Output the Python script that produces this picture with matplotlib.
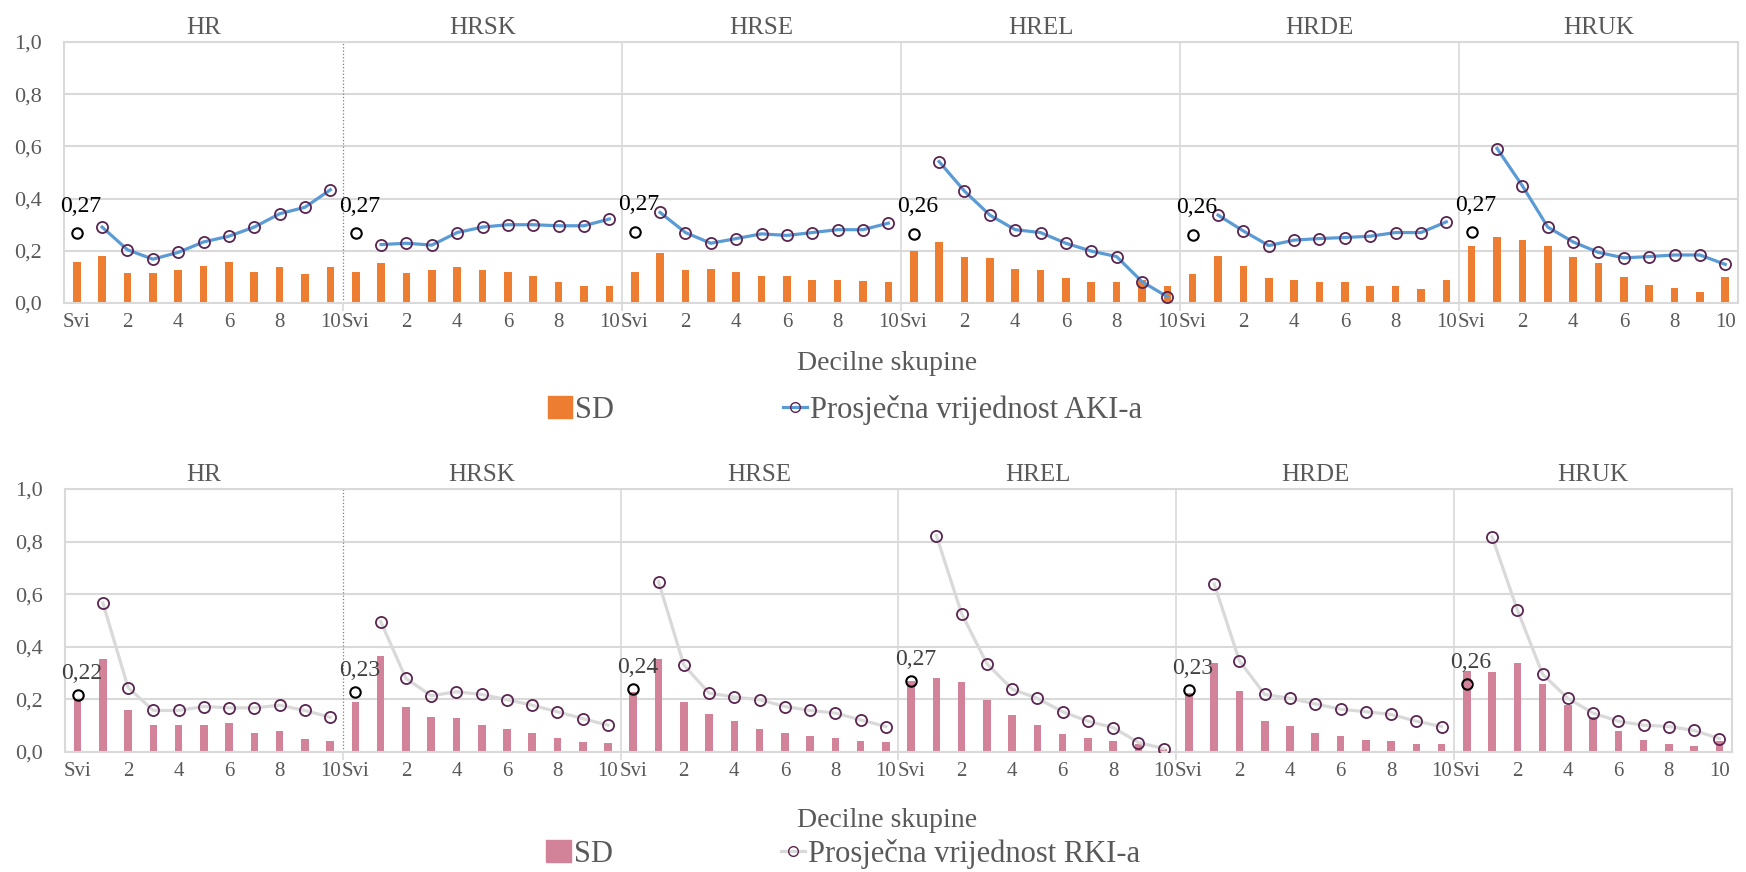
import matplotlib
matplotlib.use("Agg")
import matplotlib.pyplot as plt
from matplotlib.patches import Patch
from matplotlib.lines import Line2D

plt.rcParams['font.family'] = ['Liberation Serif', 'DejaVu Serif']

groups = ['HR', 'HRSK', 'HRSE', 'HREL', 'HRDE', 'HRUK']
cats = ['Svi', '1', '2', '3', '4', '5', '6', '7', '8', '9', '10']

# AKI: prosjecna vrijednost (Svi + decili 1..10)
aki_mean = [
    [0.267, 0.291, 0.204, 0.168, 0.194, 0.234, 0.256, 0.291, 0.342, 0.367, 0.434],
    [0.267, 0.224, 0.229, 0.222, 0.270, 0.291, 0.300, 0.300, 0.296, 0.296, 0.322],
    [0.272, 0.347, 0.270, 0.229, 0.247, 0.265, 0.259, 0.270, 0.281, 0.281, 0.306],
    [0.264, 0.542, 0.429, 0.337, 0.281, 0.270, 0.229, 0.199, 0.178, 0.082, 0.024],
    [0.262, 0.337, 0.276, 0.220, 0.241, 0.247, 0.251, 0.256, 0.270, 0.270, 0.311],
    [0.271, 0.592, 0.449, 0.291, 0.234, 0.194, 0.173, 0.178, 0.184, 0.184, 0.148],
]
aki_sd = [
    [0.157, 0.182, 0.115, 0.115, 0.125, 0.142, 0.157, 0.120, 0.137, 0.110, 0.137],
    [0.120, 0.152, 0.115, 0.125, 0.137, 0.125, 0.120, 0.105, 0.080, 0.065, 0.065],
    [0.120, 0.191, 0.125, 0.130, 0.120, 0.105, 0.105, 0.090, 0.090, 0.085, 0.080],
    [0.201, 0.232, 0.177, 0.172, 0.130, 0.125, 0.095, 0.080, 0.080, 0.090, 0.065],
    [0.110, 0.182, 0.142, 0.095, 0.090, 0.080, 0.080, 0.065, 0.065, 0.054, 0.090],
    [0.218, 0.253, 0.243, 0.218, 0.177, 0.152, 0.100, 0.070, 0.059, 0.044, 0.100],
]

# RKI
rki_mean = [
    [0.218, 0.567, 0.245, 0.158, 0.158, 0.173, 0.168, 0.168, 0.178, 0.158, 0.132],
    [0.228, 0.496, 0.280, 0.214, 0.229, 0.219, 0.199, 0.178, 0.153, 0.127, 0.102],
    [0.239, 0.648, 0.331, 0.224, 0.209, 0.199, 0.173, 0.158, 0.148, 0.122, 0.097],
    [0.271, 0.823, 0.526, 0.336, 0.239, 0.204, 0.153, 0.117, 0.093, 0.036, 0.013],
    [0.234, 0.639, 0.346, 0.219, 0.204, 0.183, 0.163, 0.153, 0.143, 0.117, 0.097],
    [0.260, 0.818, 0.541, 0.296, 0.204, 0.148, 0.117, 0.102, 0.097, 0.082, 0.051],
]
rki_sd = [
    [0.200, 0.354, 0.159, 0.104, 0.104, 0.104, 0.110, 0.074, 0.079, 0.048, 0.043],
    [0.190, 0.364, 0.171, 0.135, 0.130, 0.104, 0.089, 0.074, 0.054, 0.038, 0.033],
    [0.230, 0.354, 0.190, 0.144, 0.118, 0.088, 0.073, 0.062, 0.052, 0.042, 0.037],
    [0.270, 0.283, 0.268, 0.196, 0.139, 0.104, 0.068, 0.052, 0.042, 0.032, 0.012],
    [0.223, 0.339, 0.232, 0.118, 0.098, 0.073, 0.062, 0.047, 0.042, 0.032, 0.032],
    [0.308, 0.303, 0.339, 0.257, 0.178, 0.132, 0.078, 0.047, 0.032, 0.022, 0.040],
]

yticks = [0.0, 0.2, 0.4, 0.6, 0.8, 1.0]
grid_c = '#d9d9d9'
txt_c = '#595959'
mk_edge = '#5a2450'

fig = plt.figure(figsize=(17.46, 8.72), dpi=100)
ax1 = fig.add_axes([0.0367, 0.6525, 0.9587, 0.2993])
ax2 = fig.add_axes([0.0372, 0.1376, 0.9548, 0.3016])


def draw_panel(ax, means, sds, bar_c, line_c, lab_c, lab_dy):
    n = len(cats)
    for g, name in enumerate(groups):
        xs = [g * n + k for k in range(n)]
        ax.bar(xs, sds[g], width=0.3, color=bar_c, zorder=2)
        ax.plot(xs[1:], means[g][1:], color=line_c, lw=2.3, marker='o', ms=8,
                mfc='none', mec=mk_edge, mew=1.3, zorder=3)
        ax.plot(xs[0], means[g][0], marker='o', ms=7.5, mfc='none', mec='black',
                mew=1.5, ls='none', zorder=4)
        ax.annotate(('%.2f' % means[g][0]).replace('.', ','), (xs[0], means[g][0]),
                    xytext=(3, lab_dy), textcoords='offset points', ha='center',
                    va='bottom', fontsize=17, color=lab_c, zorder=5)
        ax.text(g * n + (n - 1) / 2, 1.01, name, transform=ax.get_xaxis_transform(),
                ha='center', va='bottom', fontsize=18, color=txt_c)
        if g > 0:
            if g == 1:
                ax.axvline(g * n - 0.5, color='#7f7f7f', ls=':', lw=0.9, zorder=1)
            else:
                ax.axvline(g * n - 0.5, color=grid_c, lw=1.2, zorder=1)
    ax.set_xlim(-0.5, len(groups) * n - 0.5)
    ax.set_ylim(0, 1)
    ax.set_yticks(yticks)
    ax.set_yticklabels([('%.1f' % v).replace('.', ',') for v in yticks])
    pos = [g * n + k for g in range(len(groups)) for k in range(0, n, 2)]
    ax.set_xticks(pos)
    ax.set_xticklabels([cats[k] for g in range(len(groups)) for k in range(0, n, 2)])
    ax.set_xticks([g * n - 0.5 for g in range(1, len(groups))], minor=True)
    ax.tick_params(axis='x', which='major', length=0, pad=7, labelsize=15, labelcolor=txt_c)
    ax.tick_params(axis='x', which='minor', length=6, color=grid_c, width=1.2)
    ax.tick_params(axis='y', length=0, pad=16, labelsize=16, labelcolor=txt_c)
    ax.grid(axis='y', color=grid_c, lw=1.5, zorder=0)
    ax.set_axisbelow(True)
    for s in ax.spines.values():
        s.set_color(grid_c)
        s.set_linewidth(1.5)


draw_panel(ax1, aki_mean, aki_sd, '#ed7d31', '#5b9bd5', 'black', 12)
draw_panel(ax2, rki_mean, rki_sd, '#d28399', '#d9d9d9', '#404040', 8)

fig.text(0.508, 0.5826, 'Decilne skupine', ha='center', va='center', fontsize=20, color=txt_c)
fig.text(0.508, 0.0585, 'Decilne skupine', ha='center', va='center', fontsize=20, color=txt_c)

h1 = [Patch(color='#ed7d31'),
      Line2D([], [], color='#5b9bd5', lw=2.3, marker='o', ms=7, mfc='none', mec=mk_edge)]
fig.legend(h1, ['SD', 'Prosječna vrijednost AKI-a'], loc='center', bbox_to_anchor=(0.484, 0.53),
           ncol=2, frameon=False, columnspacing=5.5, handlelength=0.8, handletextpad=0.1,
           prop={'size': 22}, labelcolor=txt_c)
h2 = [Patch(color='#d28399'),
      Line2D([], [], color='#d9d9d9', lw=2.3, marker='o', ms=7, mfc='none', mec=mk_edge)]
fig.legend(h2, ['SD', 'Prosječna vrijednost RKI-a'], loc='center', bbox_to_anchor=(0.483, 0.021),
           ncol=2, frameon=False, columnspacing=5.5, handlelength=0.8, handletextpad=0.1,
           prop={'size': 22}, labelcolor=txt_c)

fig.savefig('out.png', dpi=100)
